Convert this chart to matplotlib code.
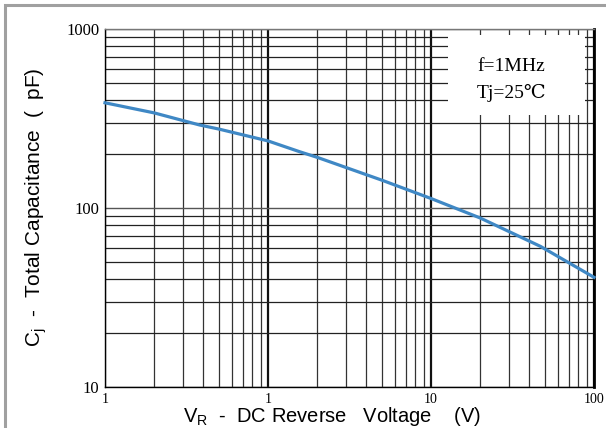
import numpy as np
import matplotlib
matplotlib.use("Agg")
import matplotlib.pyplot as plt
import matplotlib.ticker as ticker
from matplotlib.patches import Rectangle

# reverse voltage (V) and total capacitance (pF)
vr = [0.1, 0.2, 0.38, 0.5, 1, 1.57, 2, 5, 10, 20, 47, 100]
cj = [387, 340, 291, 276, 237, 206, 192, 143, 113, 88, 61, 41]

x_ticks = [0.1, 1, 10, 100]
x_labels = ["1", "1", "10", "100"]
y_ticks = [10, 100, 1000]
y_labels = ["10", "100", "1000"]

plt.rcParams.update({
    "font.family": "Liberation Sans",
    "mathtext.default": "regular",
})

SERIF = ["Liberation Serif", "DejaVu Serif", "Noto Sans CJK SC"]

fig = plt.figure(figsize=(6.06, 4.28), dpi=100)
ax = fig.add_axes([105 / 606, 1 - 387 / 428, 489 / 606, 358 / 428])

ax.set_xscale("log")
ax.set_yscale("log")
ax.set_xlim(0.1, 100)
ax.set_ylim(10, 1000)

# grid: decades heavier, sub-decades thin
ax.xaxis.set_major_locator(ticker.FixedLocator(x_ticks))
ax.xaxis.set_major_formatter(ticker.FixedFormatter(x_labels))
ax.yaxis.set_major_locator(ticker.FixedLocator(y_ticks))
ax.yaxis.set_major_formatter(ticker.FixedFormatter(y_labels))
ax.xaxis.set_minor_locator(ticker.LogLocator(base=10, subs=np.arange(2, 10)))
ax.yaxis.set_minor_locator(ticker.LogLocator(base=10, subs=np.arange(2, 10)))
ax.xaxis.set_minor_formatter(ticker.NullFormatter())
ax.yaxis.set_minor_formatter(ticker.NullFormatter())

ax.set_axisbelow(True)
ax.grid(axis="x", which="major", color="#111111", linewidth=1.6)
ax.grid(axis="x", which="minor", color="#333333", linewidth=0.9)
ax.grid(axis="y", which="major", color="#555555", linewidth=1.0)
ax.grid(axis="y", which="minor", color="#222222", linewidth=0.9)

ax.tick_params(which="both", length=0)
ax.tick_params(axis="x", pad=4, labelsize=10)
ax.tick_params(axis="y", pad=4, labelsize=12)
for lab in ax.get_xticklabels() + ax.get_yticklabels():
    lab.set_family(SERIF)

for side in ["left", "bottom"]:
    ax.spines[side].set_linewidth(1.0)
    ax.spines[side].set_color("black")
ax.spines["right"].set_linewidth(2.0)
ax.spines["right"].set_color("black")
ax.spines["top"].set_linewidth(1.0)
ax.spines["top"].set_color("#777777")

# white patch behind the condition text
ax.add_patch(Rectangle((0.701, 0.760), 0.281, 0.223, transform=ax.transAxes,
                       facecolor="white", edgecolor="none", zorder=1.5))
ax.text(0.761, 0.895, "f=1MHz", transform=ax.transAxes, fontsize=14,
        family=SERIF, ha="left", va="center", zorder=3)
ax.text(0.761, 0.82, "Tj=25℃", transform=ax.transAxes, fontsize=14,
        family=SERIF, ha="left", va="center", zorder=3)

ax.plot(vr, cj, color="#3f88c5", linewidth=2.3, zorder=4, clip_on=False)

ax.set_xlabel("V$_R$  -  DC Reverse   Voltage    (V)", fontsize=14.5)
ax.set_ylabel("C$_j$  -  Total Capacitance  (  pF)", fontsize=15)
ax.xaxis.label.set_va("center")
ax.xaxis.set_label_coords(0.464, -0.082)
ax.yaxis.label.set_va("center")
ax.yaxis.set_label_coords(-0.141, 0.503)

# gray frame of the original picture (only top and left edges visible)
fig.add_artist(Rectangle((5 / 606, -0.1), 1.2, (428 - 5) / 428 + 0.1,
                         transform=fig.transFigure, facecolor="none",
                         edgecolor="#a0a0a0", linewidth=2.2))

fig.savefig("out.png", dpi=100)
